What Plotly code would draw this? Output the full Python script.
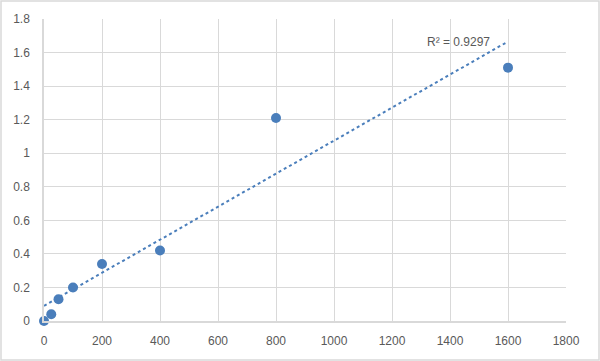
import numpy as np
import plotly.graph_objects as go

x_vals = [0, 25, 50, 100, 200, 400, 800, 1600]
y_vals = [0.0, 0.04, 0.13, 0.2, 0.34, 0.42, 1.21, 1.51]
r2_label = "R² = 0.9297"
x_ticks = [0, 200, 400, 600, 800, 1000, 1200, 1400, 1600, 1800]
y_ticks = [0, 0.2, 0.4, 0.6, 0.8, 1, 1.2, 1.4, 1.6, 1.8]
y_tick_text = ["0", "0.2", "0.4", "0.6", "0.8", "1", "1.2", "1.4", "1.6", "1.8"]

blue = "#4a7ebb"
grid = "#d9d9d9"
txt = "#595959"

slope, intercept = np.polyfit(x_vals, y_vals, 1)
tx = np.array([min(x_vals), max(x_vals)])
ty = slope * tx + intercept

fig = go.Figure()
fig.add_trace(go.Scatter(x=tx, y=ty, mode="lines",
                         line=dict(color=blue, width=2, dash="dot"),
                         hoverinfo="skip", showlegend=False))
fig.add_trace(go.Scatter(x=x_vals, y=y_vals, mode="markers",
                         marker=dict(color=blue, size=10),
                         cliponaxis=False, showlegend=False))

fig.add_annotation(x=1428, y=1.665, text=r2_label, showarrow=False,
                   font=dict(family="Liberation Sans, Arial", size=12, color=txt),
                   xref="x", yref="y")

L, R, T, B = 44, 34, 19, 40
W, H = 600, 361
pw, ph = W - L - R, H - T - B
fig.add_shape(type="rect", xref="paper", yref="paper",
              x0=(-L + 1) / pw, x1=1 + (R - 1) / pw,
              y0=(-B + 1) / ph, y1=1 + (T - 1) / ph,
              line=dict(color=grid, width=1.5), layer="below")

fig.update_layout(
    width=W, height=H,
    margin=dict(l=L, r=R, t=T, b=B),
    paper_bgcolor="white", plot_bgcolor="white",
    font=dict(family="Liberation Sans, Arial", size=12, color=txt),
    xaxis=dict(range=[0, 1800], tickvals=x_ticks, showgrid=True, gridcolor=grid,
               gridwidth=1, zeroline=False, showline=True, linecolor=grid,
               linewidth=1.5, ticks="", ticklabelstandoff=8, mirror=False),
    yaxis=dict(range=[0, 1.8], tickvals=y_ticks, ticktext=y_tick_text,
               showgrid=True, gridcolor=grid, gridwidth=1, zeroline=False,
               showline=True, linecolor=grid, linewidth=1.5, ticks="",
               ticklabelstandoff=10),
)

fig.write_html("out.html")
